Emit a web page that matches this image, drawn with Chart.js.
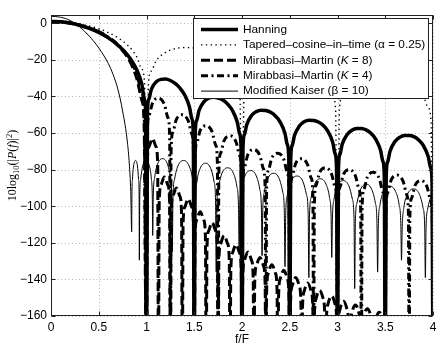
<!DOCTYPE html>
<html lang="en">
<head>
  <meta charset="UTF-8">
  <title>Pulse spectra</title>
  <script src="https://cdn.jsdelivr.net/npm/chart.js"></script>
  <style>
    html, body { margin: 0; padding: 0; background: #fff; }
    canvas { display: block; }
  </style>
</head>
<body>
  <canvas id="chart" width="443" height="350"></canvas>

  <script>
    // tick labels
    const xTicks = [0, 0.5, 1, 1.5, 2, 2.5, 3, 3.5, 4];
    const yTicks = [-160, -140, -120, -100, -80, -60, -40, -20, 0];

    // legend names (parts marked true are italic)
    const names = [
      [['Hanning', false]],
      [['Tapered\u2013cosine\u2013in\u2013time (\u03b1 = 0.25)', false]],
      [['Mirabbasi\u2013Martin (', false], ['K', true], [' = 8)', false]],
      [['Mirabbasi\u2013Martin (', false], ['K', true], [' = 4)', false]],
      [['Modified Kaiser (\u03b2 = 10)', false]]
    ];

    // Hanning
    const hanF = [0, 0.1, 0.2, 0.3, 0.4, 0.5, 0.6, 0.7, 0.8, 0.85, 0.9, 0.95, 0.98, 0.99, 1.0,
      1.01, 1.025, 1.05, 1.1, 1.15, 1.2, 1.25, 1.3, 1.35, 1.4, 1.45, 1.475, 1.49, 1.5,
      1.51, 1.525, 1.55, 1.6, 1.65, 1.7, 1.75, 1.8, 1.85, 1.9, 1.95, 1.975, 1.99, 2.0,
      2.01, 2.025, 2.05, 2.1, 2.15, 2.2, 2.25, 2.3, 2.35, 2.4, 2.45, 2.475, 2.49, 2.5,
      2.51, 2.525, 2.55, 2.6, 2.65, 2.7, 2.75, 2.8, 2.85, 2.9, 2.95, 2.975, 2.99, 3.0,
      3.01, 3.025, 3.05, 3.1, 3.15, 3.2, 3.25, 3.3, 3.35, 3.4, 3.45, 3.475, 3.49, 3.5,
      3.51, 3.525, 3.55, 3.6, 3.65, 3.7, 3.75, 3.8, 3.85, 3.9, 3.95, 3.975, 3.99, 4.0];
    const hanDb = [1, 0.8, 0.1, -1.1, -2.8, -5, -8, -11.9, -17.3, -20.9, -25.7, -33, -42, -48, -200,
      -48.9, -41.4, -36.2, -32.1, -30.7, -30.5, -31.3, -32.9, -35.4, -39.2, -45.8, -52.2, -60.4, -200,
      -60.7, -53.1, -47.7, -43.0, -41.0, -40.5, -40.9, -42.0, -44.2, -47.7, -54.0, -60.3, -68.4, -200,
      -68.6, -60.9, -55.4, -50.4, -48.3, -47.5, -47.7, -48.7, -50.7, -54.0, -60.2, -66.4, -74.4, -200,
      -74.6, -66.9, -61.3, -56.2, -53.9, -53.0, -53.1, -54.0, -55.8, -59.1, -65.1, -71.3, -79.3, -200,
      -79.5, -71.7, -66.0, -60.9, -58.5, -57.5, -57.5, -58.3, -60.1, -63.3, -69.3, -75.4, -83.4, -200,
      -83.5, -75.8, -70.0, -64.8, -62.4, -61.3, -61.3, -62.0, -63.8, -66.9, -72.9, -78.9, -86.9, -200];

    // Tapered-cosine-in-time
    const tapF = [0, 0.1, 0.2, 0.3, 0.4, 0.5, 0.6, 0.7, 0.8, 0.9, 0.95, 0.98, 1.0,
      1.02, 1.05, 1.1, 1.2, 1.3, 1.4, 1.5, 1.6, 1.7, 1.8, 1.9, 1.95, 1.98, 2.0,
      2.02, 2.05, 2.1, 2.2, 2.35, 2.5, 2.65, 2.8, 2.9, 2.95, 2.98, 3.0,
      3.02, 3.05, 3.1, 3.2, 3.35, 3.5, 3.65, 3.8, 3.9, 3.95, 3.98, 4.0];
    const tapDb = [1, 0.9, 0.4, -0.4, -1.5, -3.0, -5.1, -7.9, -11.9, -18.6, -25.1, -33.3, -200,
      -33.7, -26.1, -20.6, -15.9, -13.9, -13.3, -13.6, -14.8, -16.9, -20.4, -26.6, -32.9, -41, -200,
      -41.2, -33.5, -27.9, -23.0, -20.3, -20.3, -22.2, -26.8, -33.0, -39.2, -47.3, -200,
      -47.6, -39.9, -34.3, -29.4, -26.8, -26.8, -28.9, -33.6, -39.9, -46.2, -54.4, -200];

    // Mirabbasi-Martin K = 8
    const mm8F = [0, 0.2, 0.4, 0.5, 0.6, 0.7, 0.8, 0.85, 0.9, 0.95, 0.975, 1.0,
      1.008, 1.025, 1.0625, 1.1, 1.117, 1.125,
      1.133, 1.15, 1.1875, 1.225, 1.242, 1.25,
      1.258, 1.275, 1.3125, 1.35, 1.367, 1.375,
      1.383, 1.4, 1.4375, 1.475, 1.492, 1.5,
      1.508, 1.525, 1.5625, 1.6, 1.617, 1.625,
      1.633, 1.65, 1.6875, 1.725, 1.742, 1.75,
      1.758, 1.775, 1.8125, 1.85, 1.867, 1.875,
      1.883, 1.9, 1.9375, 1.975, 1.992, 2.0,
      2.008, 2.025, 2.0625, 2.1, 2.117, 2.125,
      2.133, 2.15, 2.1875, 2.225, 2.242, 2.25,
      2.258, 2.275, 2.3125, 2.35, 2.367, 2.375,
      2.383, 2.4, 2.4375, 2.475, 2.492, 2.5,
      2.508, 2.525, 2.5625, 2.6, 2.617, 2.625,
      2.633, 2.65, 2.6875, 2.725, 2.742, 2.75,
      2.758, 2.775, 2.8125, 2.85, 2.867, 2.875,
      2.883, 2.9, 2.9375, 2.975, 2.992, 3.0,
      3.008, 3.025, 3.0625, 3.1, 3.117, 3.125,
      3.133, 3.15, 3.1875, 3.225, 3.242, 3.25,
      3.258, 3.275, 3.3125, 3.35, 3.367, 3.375,
      3.383, 3.4, 3.4375, 3.475, 3.492, 3.5, 4.0];
    const mm8Db = [0.8, 0, -2.6, -4.6, -7.8, -12.2, -18.5, -23.5, -30.5, -42, -55, -200,
      -77, -67.6, -63, -67.6, -77, -200,
      -98, -88.6, -84, -88.6, -98, -200,
      -104, -94.6, -90, -94.6, -104, -200,
      -110, -100.6, -96, -100.6, -110, -200,
      -117, -107.6, -103, -107.6, -117, -200,
      -123, -113.6, -109, -113.6, -123, -200,
      -130, -120.6, -116, -120.6, -130, -200,
      -135, -125.6, -121, -125.6, -135, -200,
      -139, -129.6, -125, -129.6, -139, -200,
      -142, -132.6, -128, -132.6, -142, -200,
      -146, -136.6, -132, -136.6, -146, -200,
      -149, -139.6, -135, -139.6, -149, -200,
      -153, -143.6, -139, -143.6, -153, -200,
      -156, -146.6, -142, -146.6, -156, -200,
      -160, -150.6, -146, -150.6, -160, -200,
      -163, -153.6, -149, -153.6, -163, -200,
      -166, -156.6, -152, -156.6, -166, -200,
      -168, -158.6, -154, -158.6, -168, -200,
      -170, -160.6, -156, -160.6, -170, -200,
      -172, -162.6, -158, -162.6, -172, -200, -200];

    // Mirabbasi-Martin K = 4
    const mm4F = [0, 0.2, 0.4, 0.5, 0.6, 0.7, 0.8, 0.85, 0.9, 0.95, 0.975, 1.0,
      1.0075, 1.025, 1.0625, 1.125, 1.1875, 1.225, 1.2425, 1.25,
      1.2575, 1.275, 1.3125, 1.375, 1.4375, 1.475, 1.4925, 1.5,
      1.5075, 1.525, 1.5625, 1.625, 1.6875, 1.725, 1.7425, 1.75,
      1.7575, 1.775, 1.8125, 1.875, 1.9375, 1.975, 1.9925, 2.0,
      2.0075, 2.025, 2.0625, 2.125, 2.1875, 2.225, 2.2425, 2.25,
      2.2575, 2.275, 2.3125, 2.375, 2.4375, 2.475, 2.4925, 2.5,
      2.5075, 2.525, 2.5625, 2.625, 2.6875, 2.725, 2.7425, 2.75,
      2.7575, 2.775, 2.8125, 2.875, 2.9375, 2.975, 2.9925, 3.0,
      3.0075, 3.025, 3.0625, 3.125, 3.1875, 3.225, 3.2425, 3.25,
      3.2575, 3.275, 3.3125, 3.375, 3.4375, 3.475, 3.4925, 3.5,
      3.5075, 3.525, 3.5625, 3.625, 3.6875, 3.725, 3.7425, 3.75,
      3.7575, 3.775, 3.8125, 3.875, 3.9375, 3.975, 3.9925, 4.0];
    const mm4Db = [0.8, 0.1, -2.6, -4.6, -7.6, -11.6, -17.5, -22, -28, -38, -48, -200,
      -61, -50.7, -43.6, -41, -44.4, -51.7, -62, -200,
      -70, -59.7, -52.6, -50, -53.4, -60.7, -71, -200,
      -76, -65.7, -58.6, -56, -59.4, -66.7, -77, -200,
      -81.5, -71.2, -64.1, -61.5, -64.9, -72.2, -82.5, -200,
      -89, -78.7, -71.6, -69, -72.4, -79.7, -90, -200,
      -91, -80.7, -73.6, -71, -74.4, -81.7, -92, -200,
      -94, -83.7, -76.6, -74, -77.4, -84.7, -95, -200,
      -99, -88.7, -81.6, -79, -82.4, -89.7, -100, -200,
      -100, -89.7, -82.6, -80, -83.4, -90.7, -101, -200,
      -101.5, -91.2, -84.1, -81.5, -84.9, -92.2, -102.5, -200,
      -103, -92.7, -85.6, -83, -86.4, -93.7, -104, -200,
      -106, -95.7, -88.6, -86, -89.4, -96.7, -107, -200];

    // Modified Kaiser beta = 10
    const kaiF = [0, 0.1, 0.2, 0.3, 0.4, 0.5, 0.6, 0.65, 0.7, 0.75, 0.8, 0.82, 0.835, 0.845,
      0.847, 0.853, 0.865, 0.885, 0.905, 0.917, 0.923, 0.925,
      0.929, 0.939, 0.96, 0.995, 1.03, 1.051, 1.061, 1.065,
      1.071, 1.086, 1.116, 1.168, 1.219, 1.25, 1.264, 1.27,
      1.277, 1.294, 1.329, 1.388, 1.446, 1.482, 1.498, 1.505,
      1.512, 1.528, 1.561, 1.618, 1.674, 1.708, 1.723, 1.73,
      1.737, 1.754, 1.79, 1.85, 1.91, 1.946, 1.963, 1.97,
      1.977, 1.994, 2.03, 2.09, 2.15, 2.186, 2.203, 2.21,
      2.217, 2.234, 2.27, 2.33, 2.39, 2.426, 2.443, 2.45,
      2.458, 2.475, 2.513, 2.575, 2.638, 2.675, 2.693, 2.7,
      2.707, 2.724, 2.76, 2.82, 2.88, 2.916, 2.933, 2.94,
      2.947, 2.964, 3.0, 3.06, 3.12, 3.156, 3.173, 3.18,
      3.187, 3.204, 3.24, 3.3, 3.36, 3.396, 3.413, 3.42,
      3.428, 3.445, 3.483, 3.545, 3.608, 3.645, 3.663, 3.67,
      3.678, 3.695, 3.733, 3.795, 3.858, 3.895, 3.913, 3.92,
      3.927, 3.944, 3.98, 4.0];
    const kaiDb = [3.8, 3.3, 1.5, -2, -7, -13.5, -22, -28, -36, -48, -65, -77, -92, -114,
      -95.5, -85.2, -78, -75, -78, -85.2, -95.5, -129.5,
      -95.5, -85.2, -78, -75, -78, -85.2, -95.5, -116,
      -94.5, -84.2, -77, -74, -77, -84.2, -94.5, -125,
      -95.5, -85.2, -78, -75, -78, -85.2, -95.5, -120,
      -97, -86.7, -79.5, -76.5, -79.5, -86.7, -97, -136,
      -99.5, -89.2, -82, -79, -82, -89.2, -99.5, -124,
      -101, -90.7, -83.5, -80.5, -83.5, -90.7, -101, -127,
      -102.5, -92.2, -85, -82, -85, -92.2, -102.5, -133,
      -104, -93.7, -86.5, -83.5, -86.5, -93.7, -104, -139,
      -105.5, -95.2, -88, -85, -88, -95.2, -105.5, -128,
      -106.5, -96.2, -89, -86, -89, -96.2, -106.5, -145,
      -108.5, -98.2, -91, -88, -91, -98.2, -108.5, -136,
      -109.5, -99.2, -92, -89, -92, -99.2, -109.5, -129.5,
      -111, -100.7, -93.5, -90.5, -93.5, -100.7, -111, -139,
      -112, -101.7, -94.5, -92.5];

    const pts = (f, db) => f.map((v, i) => ({ x: v, y: db[i] }));

    Chart.defaults.font.family = "'Liberation Sans', Arial, Helvetica, sans-serif";
    Chart.defaults.font.size = 12;
    Chart.defaults.color = '#000';

    function seg(ctx, x0, y0, x1, y1) {
      ctx.beginPath();
      ctx.moveTo(x0, y0);
      ctx.lineTo(x1, y1);
      ctx.stroke();
    }

    // grid, box, inner ticks, legend and y label
    const frame = {
      id: 'frame',
      beforeDatasetsDraw(chart) {
        const { ctx, chartArea: a, scales: { x, y } } = chart;
        ctx.save();
        ctx.strokeStyle = '#b4b4b4';
        ctx.lineWidth = 1;
        ctx.setLineDash([1, 2.5]);
        xTicks.forEach(v => {
          const px = Math.round(x.getPixelForValue(v)) + 0.5;
          seg(ctx, px, a.top, px, a.bottom);
        });
        yTicks.forEach(v => {
          const py = Math.round(y.getPixelForValue(v)) + 0.5;
          seg(ctx, a.left, py, a.right, py);
        });
        ctx.restore();
      },
      afterDatasetsDraw(chart) {
        const { ctx, chartArea: a, scales: { x, y } } = chart;
        ctx.save();
        ctx.strokeStyle = '#222';
        ctx.lineWidth = 1;
        ctx.setLineDash([]);
        const L = Math.round(a.left) + 0.5, R = Math.round(a.right) - 0.5;
        const T = Math.round(a.top) + 0.5, B = Math.round(a.bottom) - 0.5;
        ctx.strokeRect(L, T, R - L, B - T);
        xTicks.forEach(v => {
          const px = Math.round(x.getPixelForValue(v)) + 0.5;
          seg(ctx, px, B, px, B - 4);
          seg(ctx, px, T, px, T + 4);
        });
        yTicks.forEach(v => {
          const py = Math.round(y.getPixelForValue(v)) + 0.5;
          seg(ctx, L, py, L + 4, py);
          seg(ctx, R, py, R - 4, py);
        });

        // legend box
        const lx0 = 193.5, ly0 = 18.5, lx1 = 428.5, ly1 = 98.5;
        ctx.fillStyle = '#fff';
        ctx.fillRect(lx0, ly0, lx1 - lx0, ly1 - ly0);
        ctx.strokeStyle = '#222';
        ctx.strokeRect(lx0, ly0, lx1 - lx0, ly1 - ly0);
        chart.data.datasets.forEach((ds, i) => {
          const ry = 29.5 + i * 15.4;
          ctx.strokeStyle = '#000';
          ctx.lineWidth = ds.borderWidth;
          ctx.lineCap = 'butt';
          ctx.setLineDash(ds.borderDash || []);
          seg(ctx, 201, ry, 238, ry);
          ctx.setLineDash([]);
          let tx = 243;
          ctx.fillStyle = '#000';
          ctx.textBaseline = 'middle';
          ctx.textAlign = 'left';
          names[i].forEach(([txt, it]) => {
            ctx.font = (it ? 'italic ' : '') + "11.8px 'Liberation Sans', Arial, sans-serif";
            ctx.fillText(txt, tx, ry);
            tx += ctx.measureText(txt).width;
          });
        });

        // y axis label, rotated
        const parts = [
          ['10log', 'normal', 12, 0], ['10', 'normal', 8.5, 3], ['(|', 'normal', 12, 0],
          ['P', 'italic', 12, 0], ['(', 'normal', 12, 0], ['f', 'italic', 12, 0],
          [')|', 'normal', 12, 0], ['2', 'normal', 8.5, -4.5], [')', 'normal', 12, 0]
        ];
        const fontOf = p => p[1] + ' ' + p[2] + "px 'Liberation Serif', 'Times New Roman', serif";
        let w = 0;
        parts.forEach(p => { ctx.font = fontOf(p); w += ctx.measureText(p[0]).width; });
        ctx.translate(12, (a.top + a.bottom) / 2);
        ctx.rotate(-Math.PI / 2);
        ctx.textBaseline = 'alphabetic';
        let cx = -w / 2;
        parts.forEach(p => {
          ctx.font = fontOf(p);
          ctx.fillText(p[0], cx, 4 + p[3]);
          cx += ctx.measureText(p[0]).width;
        });
        ctx.restore();
      }
    };

    const common = {
      borderColor: '#000',
      pointRadius: 0,
      fill: false,
      cubicInterpolationMode: 'monotone',
      borderJoinStyle: 'round',
      clip: 0
    };

    new Chart(document.getElementById('chart'), {
      type: 'line',
      data: {
        datasets: [
          { ...common, label: 'Hanning', data: pts(hanF, hanDb), borderWidth: 3.5, order: 5 },
          { ...common, label: 'Tapered-cosine-in-time', data: pts(tapF, tapDb), borderWidth: 1.4, borderDash: [1.4, 3.4], order: 4 },
          { ...common, label: 'Mirabbasi-Martin K=8', data: pts(mm8F, mm8Db), borderWidth: 3, borderDash: [9, 4], order: 3 },
          { ...common, label: 'Mirabbasi-Martin K=4', data: pts(mm4F, mm4Db), borderWidth: 3, borderDash: [7, 3.5, 2, 3.5], order: 2 },
          { ...common, label: 'Modified Kaiser', data: pts(kaiF, kaiDb), borderWidth: 1, order: 1 }
        ]
      },
      options: {
        responsive: false,
        animation: false,
        devicePixelRatio: 1,
        layout: { padding: { top: 15, right: 10, left: 0, bottom: 0 } },
        plugins: {
          legend: { display: false },
          tooltip: { enabled: false }
        },
        scales: {
          x: {
            type: 'linear',
            min: 0,
            max: 4,
            grid: { display: false, drawTicks: false },
            border: { display: false },
            afterBuildTicks: s => { s.ticks = xTicks.map(v => ({ value: v })); },
            afterFit: s => { s.height = 34; },
            ticks: { padding: 4, maxRotation: 0, autoSkip: false, callback: v => String(v) },
            title: { display: true, text: 'f/F', padding: { top: 0, bottom: 3 } }
          },
          y: {
            type: 'linear',
            min: -160,
            max: 4.5,
            grid: { display: false, drawTicks: false },
            border: { display: false },
            afterBuildTicks: s => { s.ticks = yTicks.map(v => ({ value: v })); },
            afterFit: s => { s.width = 51; },
            ticks: { padding: 4, autoSkip: false, callback: v => (v < 0 ? '\u2212' + Math.abs(v) : String(v)) }
          }
        }
      },
      plugins: [frame]
    });
  </script>
</body>
</html>
